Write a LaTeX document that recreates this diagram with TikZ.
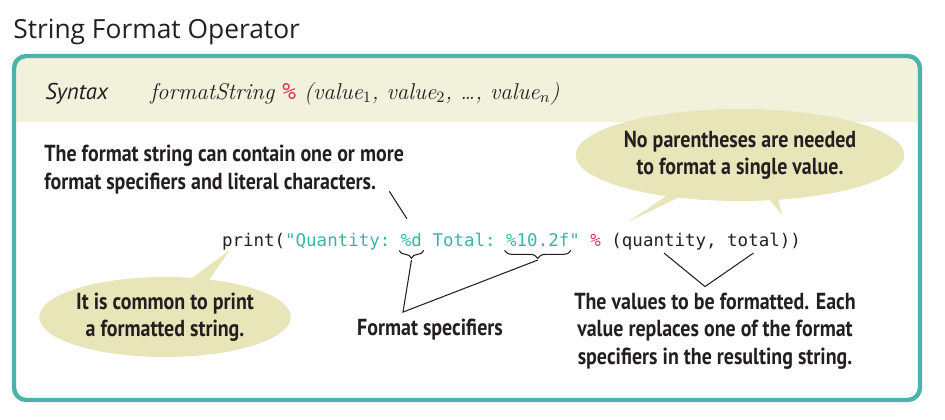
\documentclass[tikz,border=0pt]{standalone}
\usepackage{fontspec}
\setmonofont{DejaVu Sans Mono}
\newfontfamily\headfont{Open Sans}
\newfontfamily\syntaxfont{PT Sans}
\newfontfamily\notefont[FakeStretch=0.86]{PT Sans}
\usetikzlibrary{positioning,calc,shapes.geometric,decorations.pathreplacing}
\definecolor{sfteal}{HTML}{4DB3AA}
\definecolor{sfband}{HTML}{F2F2DC}
\definecolor{sfbubble}{HTML}{E8E5B9}
\definecolor{sfcode}{HTML}{3DB3A8}
\definecolor{sfred}{HTML}{E0305F}
\definecolor{sfink}{HTML}{231F20}

\begin{document}
\begin{tikzpicture}[x=0.02cm, y=-0.02cm,
  note/.style={font=\notefont\bfseries\fontsize{13.2}{15.6}\selectfont, text=sfink, inner sep=0pt, align=center},
  codetxt/.style={font=\ttfamily\fontsize{9.95}{12}\selectfont, text=sfink, inner sep=0pt, outer sep=0pt},
  bubble/.style={ellipse, fill=sfbubble, inner sep=0pt},
  leader/.style={sfink, line width=0.6pt},
  brc/.style={sfink, line width=0.6pt, decorate, decoration={brace, mirror, amplitude=4.5pt}}]
  \useasboundingbox (0,0) rectangle (945,419);
  \node[anchor=base west, inner sep=0pt, text=sfink, font=\headfont\fontsize{15}{17}\selectfont] (title) at (13,38) {String Format Operator};
  \begin{scope}
    \clip[rounded corners=7pt] (14,56) rectangle (920,400);
    \fill[sfband] (14,56) rectangle (920,122);
  \end{scope}
  \draw[sfteal, line width=2.5pt, rounded corners=7pt] (14,56) rectangle (920,400);
  \node[anchor=base west, inner sep=0pt, text=sfink, font=\syntaxfont\itshape\fontsize{13}{15}\selectfont] (syntax) at (45,99) {Syntax};
  \node[anchor=base west, inner sep=0pt, text=sfink, font=\fontsize{13}{15}\selectfont\itshape] (form) at (150,99)
    {formatString {\upshape\ttfamily\color{sfred}\%} (value$_1$, value$_2$, \dots, value$_n$)};

  \node[bubble, note, minimum width=5.2cm, minimum height=1.84cm] (single) at (740,155) {No parentheses are needed\\to format a single value.};
  \fill[sfbubble] ($(single.center)+(-55,28)$) -- ($(single.center)+(-112,67)$) -- ($(single.center)+(-40,32)$) -- cycle;
  \fill[sfbubble] ($(single.center)+(22,35)$) -- ($(single.center)+(42,60)$) -- ($(single.center)+(36,35)$) -- cycle;
  \node[bubble, note, minimum width=4.9cm, minimum height=1.6cm] (common) at (165,317) {It is common to print\\a formatted string.};
  \fill[sfbubble] ($(common.center)+(15,-30)$) -- ($(common.center)+(65,-67)$) -- ($(common.center)+(37,-27)$) -- cycle;

  \node[codetxt, anchor=base west] (cprint) at (222,246) {print(};
  \node[codetxt, text=sfcode, base right=0pt of cprint] (cquote) {"Quantity:\ \null};
  \node[codetxt, text=sfcode, base right=0pt of cquote] (fmtd) {\%d};
  \node[codetxt, text=sfcode, base right=0pt of fmtd] (ctotlbl) {\ Total:\ \null};
  \node[codetxt, text=sfcode, base right=0pt of ctotlbl] (fmtf) {\%10.2f};
  \node[codetxt, text=sfcode, base right=0pt of fmtf] (cclose) {"\ \null};
  \node[codetxt, text=sfred, base right=0pt of cclose] (cpct) {\%};
  \node[codetxt, base right=0pt of cpct] (copen) {\ (};
  \node[codetxt, base right=0pt of copen] (cqty) {quantity};
  \node[codetxt, base right=0pt of cqty] (ccomma) {,\ \null};
  \node[codetxt, base right=0pt of ccomma] (ctotal) {total};
  \node[codetxt, base right=0pt of ctotal] (cend) {))};

  \node[note, align=left, anchor=north west] (intro) at (44,145) {The format string can contain one or more\\format specifiers and literal characters.};
  \draw[leader] ($(intro.south east)+(-15,-3)$) -- ($(fmtd.north west)+(6,-14)$);

  \draw[brc] ([xshift=-1pt, yshift=-2.5pt]fmtd.base west) -- ([xshift=1pt, yshift=-2.5pt]fmtd.base east);
  \draw[brc] ([xshift=-1pt, yshift=-2.5pt]fmtf.base west) -- ([xshift=1pt, yshift=-2.5pt]fmtf.base east);
  \coordinate (dtip) at ([yshift=-8pt]fmtd.base);
  \coordinate (ftip) at ([yshift=-8pt]fmtf.base);
  \node[note] (spec) at (430,330) {Format specifiers};
  \coordinate (specjoin) at ($(spec.north)+(-27,-7)$);
  \draw[leader] (dtip) -- (specjoin) -- (ftip);

  \node[note] (vals) at (715,331) {The values to be formatted. Each\\value replaces one of the format\\specifiers in the resulting string.};
  \coordinate (valjoin) at ($(vals.north)+(-10,-6)$);
  \draw[leader] ([yshift=-4pt]cqty.base) -- (valjoin) -- ([yshift=-4pt]ctotal.base);
\end{tikzpicture}
\end{document}
